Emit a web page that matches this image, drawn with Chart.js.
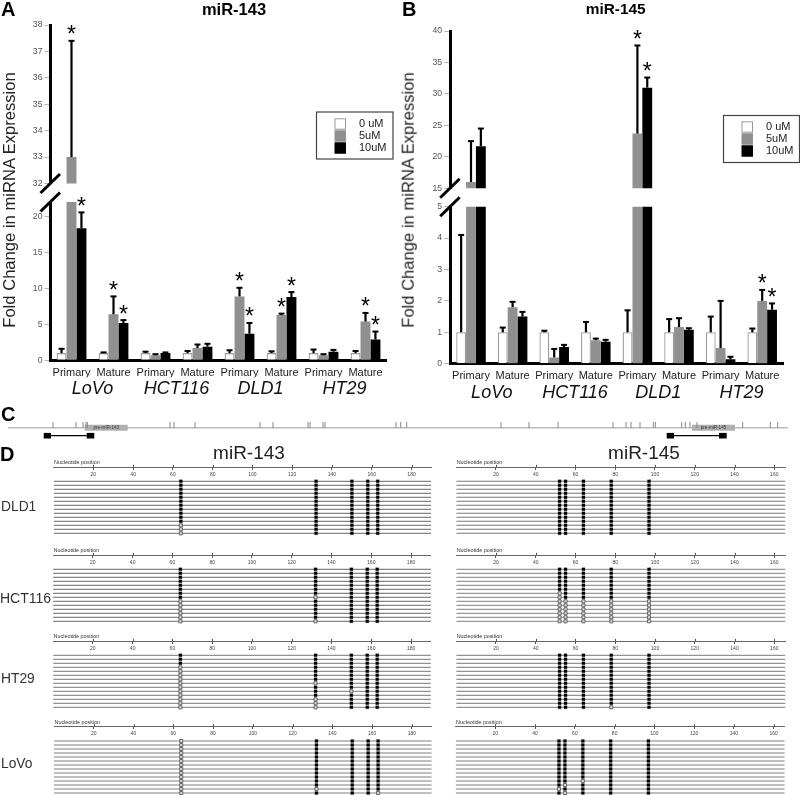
<!DOCTYPE html>
<html><head><meta charset="utf-8">
<style>
html,body{margin:0;padding:0;background:#fff;overflow:hidden;width:800px;height:795px}
#page{position:relative;width:800px;height:795px;overflow:hidden;font-family:"Liberation Sans",Arial,sans-serif}
canvas{position:absolute}
.t{position:absolute;white-space:nowrap;line-height:1;color:#111}
</style>
<script src="https://cdn.jsdelivr.net/npm/chart.js@4"></script>
</head><body><div id="page"></div>
<script>
// ---------- Panels A and B: categories and values ----------
const regions = ['Primary','Mature','Primary','Mature','Primary','Mature','Primary','Mature'];
const cellLines = ['LoVo','HCT116','DLD1','HT29'];
const doses = ['0 uM','5uM','10uM'];

const a0      = [1,1,1,1,1,1,1,1];
const a0Top   = [1.6,1.1,1.2,1.3,1.4,1.25,1.5,1.3];
const a5      = [33,6.4,0.7,1.7,8.9,6.3,0.7,5.4];
const a5Top   = [37.4,8.9,0.85,2.2,10.1,6.5,0.85,6.6];
const a10     = [18.4,5.2,1,1.9,3.7,8.8,1.2,2.9];
const a10Top  = [20.6,5.6,1.1,2.3,5.2,9.5,1.45,4.0];
const aStars  = [[1,0],[2,0],[1,1],[2,1],[1,4],[2,4],[1,5],[2,5],[1,7],[2,7]];

const b0      = [1,1,1,1,1,1,1,1];
const b0Top   = [4.1,1.15,1.05,1.33,1.7,1.42,1.5,1.12];
const b5      = [16,1.8,0.2,0.75,23.7,1.17,0.5,2];
const b5Top   = [22.5,1.97,0.47,0.8,37.7,1.45,2.0,2.35];
const b10     = [21.7,1.5,0.53,0.7,31,1.08,0.14,1.72];
const b10Top  = [24.5,1.65,0.6,0.76,32.6,1.13,0.22,1.92];
const bStars  = [[1,4],[2,4],[1,7],[2,7]];

// ---------- Panel C: gene track ----------
const cpgMarks = [53,76,83,86,87.3,170,174,195,260,273,308,310,323,325,396,400.7,406.7,501,529,558,613,626,631,640,653.3,655.3,681.7,685.3,690,697,742.7,770.3,777.7];
const geneSpan = [8,788];
const pre143 = [84.7,127.7];
const pre145 = [692,735];
const primers143 = [43.7,51,86.7,94.3];
const primers145 = [666.7,674,719,726.7];

// ---------- Panel D: CpG sites and unmethylated clones per site ----------
const sites143 = [64,132,150,158,163];
const sites145 = [52,55,64,78,97];
const clones = [0,1,2,3,4,5,6,7,8,9,10,11,12,13];
const open143DLD1   = [[11,12,13],[],[],[],[]];
const open143HCT116 = [[8,9,10,11,12,13],[7,13],[],[],[]];
const open143HT29   = [[3,4,5,6,7,8,9,10,11,12,13],[7,11,12,13],[9],[],[]];
const open143LoVo   = [[0,1,2,3,4,5,6,7,8,9,10,11,12,13],[12],[],[],[13]];
const open145DLD1   = [[],[],[],[],[]];
const open145HCT116 = [[6,7,8,9,10,11,12,13],[8,9,10,11,12,13],[8,9,10,11,12,13],[8,9,10,11,12,13],[8,9,10,11,12,13]];
const open145HT29   = [[],[],[],[13],[]];
const open145LoVo   = [[12],[11,13],[10],[],[]];

// ---------- helpers ----------
const page = document.getElementById('page');
const FONT = '"Liberation Sans", Arial, sans-serif';
Chart.defaults.font.family = FONT;
Chart.defaults.animation = false;

function mk(left, top, w, h){
  const c = document.createElement('canvas');
  c.width = w; c.height = h;
  c.style.left = left+'px'; c.style.top = top+'px';
  c.style.width = w+'px'; c.style.height = h+'px';
  page.appendChild(c);
  return c.getContext('2d');
}
function text(s, x, y, size, extra, anchor){
  const d = document.createElement('div');
  d.className = 't'; d.textContent = s;
  d.style.left = x+'px'; d.style.top = y+'px'; d.style.fontSize = size+'px';
  d.style.transform = anchor || 'translateY(-50%)';
  if(extra) d.style.cssText += extra;
  page.appendChild(d);
}
const basePlugins = {legend:{display:false},tooltip:{enabled:false},title:{display:false}};

// ---------- bar panels ----------
const barColors = ['#ffffff','#909090','#000000'];
const barBorders = ['#9a9a9a','#909090','#000000'];

function barPanel(cfg){
  const {cLeft,cTop,cH,plotL,plotR,plotT,plotB,min,max,step,series,tops,stars,lower,legendBox} = cfg;
  const axisH1 = 17, axisH2 = 23;
  const padB = cTop+cH-plotB-(lower?axisH1+axisH2:0);
  const overlay = {
    id:'overlay',
    afterDatasetsDraw(chart){
      const c = chart.ctx, y = chart.scales.y;
      c.save();
      c.strokeStyle = '#000'; c.lineCap = 'butt';
      series.forEach((vals,s)=>{
        const meta = chart.getDatasetMeta(s);
        vals.forEach((v,i)=>{
          if(v < min || v > max) return;
          const x = meta.data[i].x, yT = y.getPixelForValue(tops[s][i]), y0 = y.getPixelForValue(v);
          c.lineWidth = 2.2;
          c.beginPath(); c.moveTo(x,y0); c.lineTo(x,yT); c.stroke();
          c.lineWidth = 2;
          c.beginPath(); c.moveTo(x-3,yT); c.lineTo(x+3,yT); c.stroke();
        });
      });
      c.fillStyle = '#000'; c.font = '23px '+FONT; c.textAlign='center'; c.textBaseline='alphabetic';
      stars.forEach(([s,i])=>{
        const t = tops[s][i];
        if(series[s][i] < min || series[s][i] > max) return;
        const x = chart.getDatasetMeta(s).data[i].x;
        c.fillText('*', x, y.getPixelForValue(t)+1.5);
      });
      // axis break slash
      const a = chart.chartArea, by = lower ? a.top : a.bottom;
      c.lineWidth = 3;
      c.beginPath(); c.moveTo(a.left-10,by+9.5); c.lineTo(a.left+9.5,by-9.5); c.stroke();
      if(legendBox){
        const [lx,ly,lw,lh,sx,tx,r0] = legendBox;
        const ox = chart.canvas.offsetLeft;
        c.fillStyle='#fff'; c.strokeStyle='#444'; c.lineWidth=1.2;
        c.fillRect(lx-ox,ly,lw,lh); c.strokeRect(lx-ox,ly,lw,lh);
        c.font='11px '+FONT; c.textAlign='left'; c.textBaseline='middle';
        doses.forEach((d,k)=>{
          const ry = r0+k*12;
          c.fillStyle=barColors[k]; c.fillRect(sx-ox,ry-5.2,10.5,10.4);
          c.strokeStyle=barBorders[k]; c.lineWidth=1; c.strokeRect(sx-ox,ry-5.2,10.5,10.4);
          c.fillStyle='#222'; c.fillText(d,tx-ox,ry);
        });
      }
      c.restore();
    }
  };
  const scales = {
    y:{min,max,position:'left',
      afterFit(s){s.width = plotL-cLeft;},
      border:{color:'#000',width:3},
      grid:{drawOnChartArea:false,tickLength:6,color:'#b5b5b5',tickWidth:1},
      ticks:{stepSize:step,includeBounds:false,padding:2,color:'#555',font:{size:8.7}}
    },
    x:{type:'category',display:!!lower,offset:true,weight:0,
      afterFit(s){ if(lower) s.height = axisH1; },
      border:{color:'#000',width:3},
      grid:{drawOnChartArea:false,drawTicks:false,offset:true},
      ticks:{autoSkip:false,maxRotation:0,minRotation:0,padding:6,color:'#222',font:{size:11}}
    }
  };
  if(lower){
    scales.x2 = {type:'category',axis:'x',position:'bottom',labels:cellLines,offset:true,weight:1,
      afterFit(s){s.height = axisH2;},
      border:{display:false},
      grid:{display:false,drawTicks:false},
      ticks:{autoSkip:false,maxRotation:0,minRotation:0,padding:1,color:'#111',font:{size:18,style:'italic'}}
    };
  }
  new Chart(mk(cLeft,cTop,400,cH),{
    type:'bar',
    data:{labels:regions,datasets:series.map((v,k)=>({
      label:doses[k],data:v,backgroundColor:barColors[k],borderColor:barBorders[k],
      borderWidth:k===0?1.3:0,categoryPercentage:0.71,barPercentage:1,xAxisID:'x',yAxisID:'y'
    }))},
    options:{responsive:false,devicePixelRatio:1,events:[],animation:false,
      layout:{autoPadding:false,padding:{top:plotT-cTop,left:0,right:cLeft+400-plotR,bottom:padB}},
      plugins:basePlugins,scales},
    plugins:[overlay]
  });
}

const aSeries=[a0,a5,a10], aTops=[a0Top,a5Top,a10Top];
const bSeries=[b0,b5,b10], bTops=[b0Top,b5Top,b10Top];
barPanel({cLeft:0,cTop:0,cH:200,plotL:50.5,plotR:386.5,plotT:25,plotB:183.5,min:32,max:38,step:1,series:aSeries,tops:aTops,stars:aStars,legendBox:[316.5,112,76.5,47,335,359,124]});
barPanel({cLeft:0,cTop:185,cH:220,plotL:50.5,plotR:386.5,plotT:202,plotB:360.3,min:0,max:22.05,step:5,series:aSeries,tops:aTops,stars:aStars,lower:true});
barPanel({cLeft:400,cTop:0,cH:205,plotL:450.2,plotR:783,plotT:31,plotB:188.3,min:15,max:40,step:5,series:bSeries,tops:bTops,stars:bStars,legendBox:[723.5,115.5,76,47,742,766,127]});
barPanel({cLeft:400,cTop:190,cH:220,plotL:450.2,plotR:783,plotT:206.7,plotB:363.7,min:0,max:5,step:1,series:bSeries,tops:bTops,stars:bStars,lower:true});

// ---------- panel C ----------
function seg(a,b,y,color,width,caption){
  return {data:[{x:a,y},{x:b,y}],showLine:true,pointRadius:0,borderColor:color,borderWidth:width,borderCapStyle:'butt',caption};
}
new Chart(mk(0,418,800,24),{
  type:'scatter',
  data:{datasets:[
    {data:cpgMarks.map(x=>({x,y:0.34})),pointStyle:'line',rotation:90,pointRadius:3,borderColor:'#888',borderWidth:1,backgroundColor:'#888'},
    seg(primers143[0],primers143[1],-1,'#000',5.6),
    seg(primers143[2],primers143[3],-1,'#000',5.6),
    seg(primers145[0],primers145[1],-1,'#000',5.6),
    seg(primers145[2],primers145[3],-1,'#000',5.6),
    seg(primers143[1],primers143[2],-1,'#000',1.3),
    seg(primers145[1],primers145[2],-1,'#000',1.3),
    seg(pre143[0],pre143[1],0,'#b0b0b0',6,'pre-miR-143'),
    seg(pre145[0],pre145[1],0,'#b0b0b0',6,'pre-miR-145'),
    seg(geneSpan[0],geneSpan[1],0,'#bdbdbd',1.5)
  ]},
  options:{responsive:false,devicePixelRatio:1,events:[],animation:false,
    layout:{autoPadding:false,padding:0},plugins:basePlugins,
    scales:{x:{type:'linear',display:false,min:0,max:800},y:{type:'linear',display:false,min:-1.7875,max:1.2125}}},
  plugins:[{id:'captions',afterDatasetsDraw(chart){
    const c=chart.ctx;c.save();c.font='4.6px '+FONT;c.fillStyle='#333';c.textAlign='center';c.textBaseline='middle';
    chart.data.datasets.forEach(d=>{ if(d.caption){
      c.fillText(d.caption,chart.scales.x.getPixelForValue((d.data[0].x+d.data[1].x)/2),chart.scales.y.getPixelForValue(0));
    }});c.restore();
  }}]
});

// ---------- panel D ----------
function lollipop(cfg){
  const {plotL,plotR,domainMax,axisY,firstY,sites,open,lineColor,lineWidth,radius} = cfg;
  const plotT = firstY-18, plotB = firstY+56;
  const cL = Math.floor(plotL)-4, cT = Math.floor(axisY)-14, cW = Math.ceil(plotR-cL)+6, cH = Math.ceil(plotB-cT)+2;
  const meth=[], unmeth=[];
  sites.forEach((p,si)=>clones.forEach(k=>{ (open[si].includes(k)?unmeth:meth).push({x:p,y:k}); }));
  const rowLines = clones.map(k=>({data:[{x:0,y:k},{x:domainMax,y:k}],showLine:true,pointRadius:0,borderColor:lineColor,borderWidth:lineWidth}));
  const axisRow = (axisY-firstY)/4;
  new Chart(mk(cL,cT,cW,cH),{
    type:'scatter',
    data:{datasets:[
      {data:unmeth,pointStyle:'rect',pointRadius:radius,backgroundColor:'#d8d8d8',borderColor:'#666',borderWidth:1},
      {data:meth,pointStyle:'rect',pointRadius:radius,backgroundColor:'#000',borderColor:'#000',borderWidth:0.2},
      ...rowLines
    ]},
    options:{responsive:false,devicePixelRatio:1,events:[],animation:false,
      layout:{autoPadding:false,padding:{left:plotL-cL,right:cL+cW-plotR,top:plotT-cT,bottom:cT+cH-plotB}},
      plugins:basePlugins,
      scales:{
        y:{type:'linear',display:false,reverse:true,min:-4.5,max:14},
        x:{type:'linear',min:0,max:domainMax,position:{y:axisRow},
          afterBuildTicks(s){s.ticks = s.ticks.filter(t=>t.value>0);},
          border:{color:'#666',width:1},
          grid:{drawOnChartArea:false,tickLength:2,color:'#555',tickWidth:1},
          ticks:{stepSize:20,includeBounds:false,autoSkip:false,maxRotation:0,padding:2,color:'#444',font:{size:5}}
        }
      }},
    plugins:[{id:'axisExtras',afterDraw(chart){
      const c=chart.ctx,x=chart.scales.x,yy=chart.scales.y.getPixelForValue(axisRow);
      c.save();c.strokeStyle='#555';c.lineWidth=1;
      x.ticks.forEach(t=>{const px=Math.round(x.getPixelForValue(t.value))+0.5;c.beginPath();c.moveTo(px,yy);c.lineTo(px,yy-2.5);c.stroke();});
      c.fillStyle='#333';c.font='5.4px '+FONT;c.textAlign='left';c.textBaseline='alphabetic';
      c.fillText('Nucleotide position',chart.chartArea.left+0.5,yy-3.2);
      c.restore();
    }}]
  });
}
const L143=53.6,R143=431.4,M143=190,L145=456.2,R145=785.4,M145=165.6;
lollipop({plotL:L143,plotR:R143,domainMax:M143,axisY:467.3,firstY:481.3,sites:sites143,open:open143DLD1,lineColor:'#666',lineWidth:1,radius:2.2});
lollipop({plotL:L145,plotR:R145,domainMax:M145,axisY:467.3,firstY:481.3,sites:sites145,open:open145DLD1,lineColor:'#777',lineWidth:1.1,radius:2.2});
lollipop({plotL:53.1,plotR:430.9,domainMax:M143,axisY:555.3,firstY:569.3,sites:sites143,open:open143HCT116,lineColor:'#666',lineWidth:1,radius:2.2});
lollipop({plotL:L145,plotR:R145,domainMax:M145,axisY:555.3,firstY:569.3,sites:sites145,open:open145HCT116,lineColor:'#999',lineWidth:1.2,radius:2.2});
lollipop({plotL:53.1,plotR:430.9,domainMax:M143,axisY:641.3,firstY:655.3,sites:sites143,open:open143HT29,lineColor:'#777',lineWidth:1,radius:2.2});
lollipop({plotL:L145,plotR:R145,domainMax:M145,axisY:641.3,firstY:655.3,sites:sites145,open:open145HT29,lineColor:'#777',lineWidth:1,radius:2.2});
lollipop({plotL:54,plotR:431.8,domainMax:M143,axisY:726.7,firstY:741,sites:sites143,open:open143LoVo,lineColor:'#aaa',lineWidth:1.4,radius:2.2});
lollipop({plotL:455.6,plotR:784.8,domainMax:M145,axisY:726.7,firstY:741,sites:sites145,open:open145LoVo,lineColor:'#aaa',lineWidth:1.4,radius:2.2});

// ---------- text ----------
text('A',1,9,20,'font-weight:bold;color:#000');
text('B',402,9,20,'font-weight:bold;color:#000');
text('C',1,414,20,'font-weight:bold;color:#000');
text('D',0,454,20,'font-weight:bold;color:#000');
text('miR-143',234,9,16.5,'font-weight:bold;color:#000','translate(-50%,-50%)');
text('miR-145',615.7,9,15.4,'font-weight:bold;color:#000','translate(-50%,-50%)');
text('miR-143',249,451.7,19,'color:#222','translate(-50%,-50%)');
text('miR-145',644,451.7,19,'color:#222','translate(-50%,-50%)');
text('Fold Change in miRNA Expression',10,200,16.6,'color:#222','translate(-50%,-50%) rotate(-90deg)');
text('Fold Change in miRNA Expression',409,200,16.6,'color:#222','translate(-50%,-50%) rotate(-90deg)');
text('DLD1',1,507,13.8,'color:#333');
text('HCT116',0,598,14,'color:#333');
text('HT29',1,679,13.8,'color:#333');
text('LoVo',1,764,13.8,'color:#333');
</script></body></html>
